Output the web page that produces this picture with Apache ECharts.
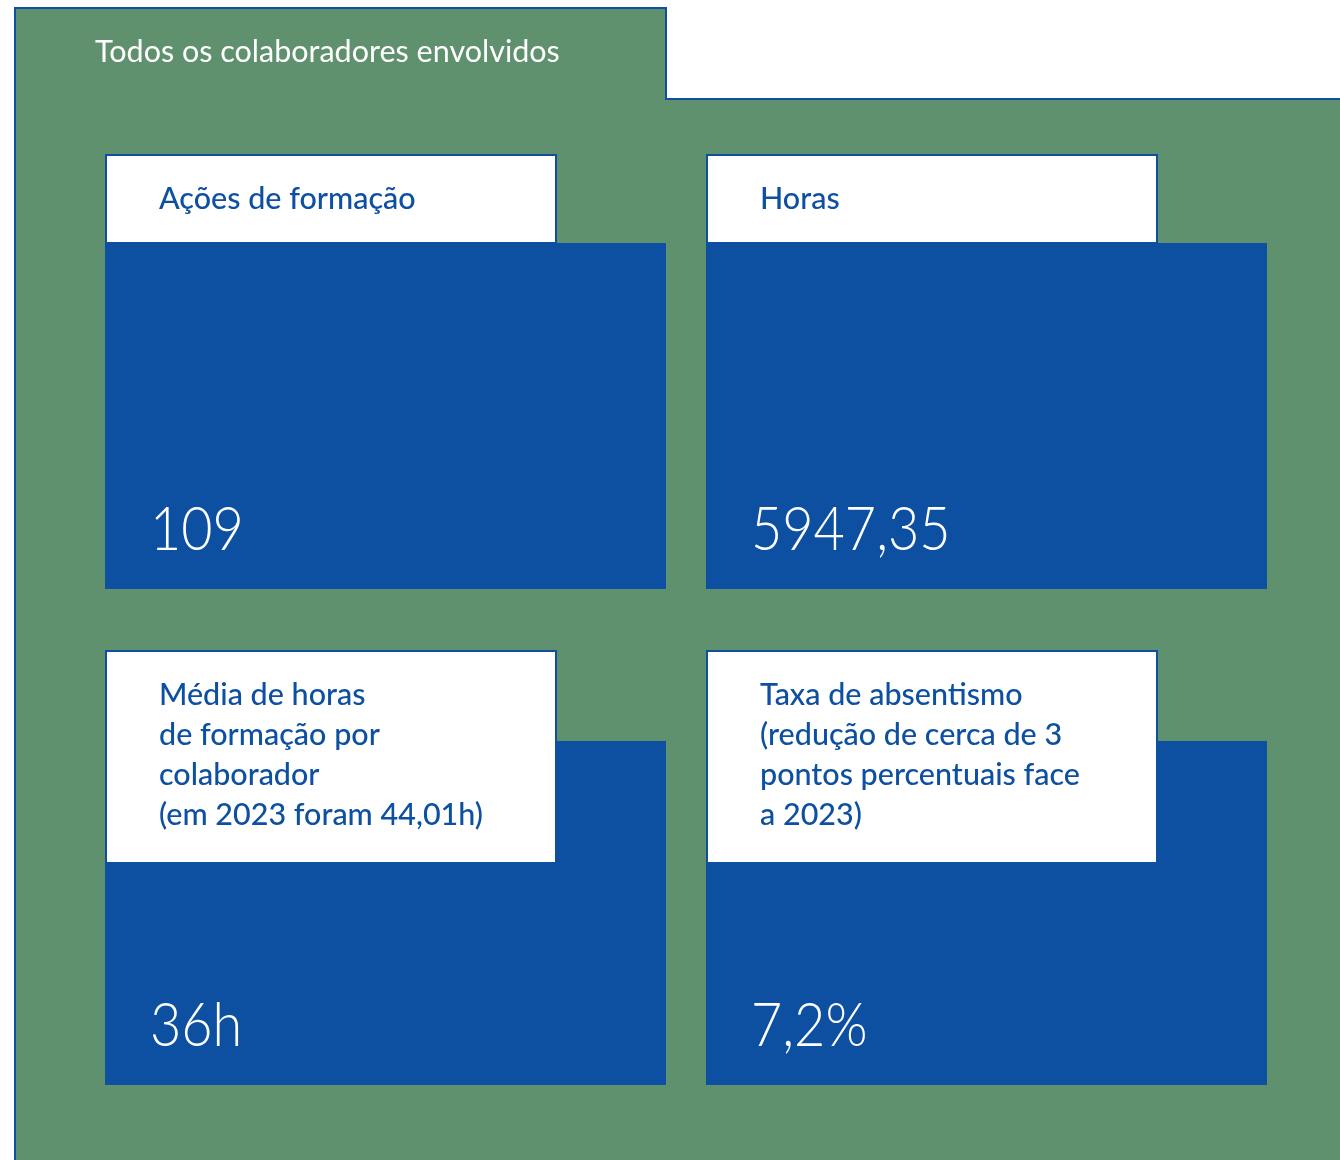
<!DOCTYPE html>
<html lang="pt">
<head>
    <meta charset="UTF-8">
    <title>Todos os colaboradores envolvidos</title>
    <script src="https://cdn.jsdelivr.net/npm/echarts@6/dist/echarts.min.js"></script>
    <style>
        html, body { margin: 0; padding: 0; background: #ffffff; }
        #main { width: 1340px; height: 1160px; }
    </style>
</head>
<body>
    <div id="main"></div>
    <script>
        var myChart = echarts.init(document.getElementById('main'));

        // dados
        var title = 'Todos os colaboradores envolvidos';
        var labels = [
            ['Ações de formação'],
            ['Horas'],
            ['Média de horas', 'de formação por', 'colaborador', '(em 2023 foram 44,01h)'],
            ['Taxa de absentismo', '(redução de cerca de 3', 'pontos percentuais face', 'a 2023)']
        ];
        var values = ['109', '5947,35', '36h', '7,2%'];

        var green = '#60916f';
        var blue = '#0d4fa1';
        var font = 'Lato, "Noto Sans", sans-serif';

        var colX = [105, 706];
        var rowTop = [155, 651];      // topo da caixa branca
        var rowBlueTop = [243, 741];  // topo do bloco azul
        var rowBottom = [589, 1085];  // base do bloco azul

        var elements = [];

        // fundo verde com separador
        elements.push({
            type: 'polygon',
            shape: { points: [[15, 8], [666, 8], [666, 99], [1345, 99], [1345, 1165], [15, 1165]] },
            style: { fill: green, stroke: blue, lineWidth: 2 }
        });
        elements.push({
            type: 'text',
            style: {
                x: 95, y: 52, text: title, fill: '#ffffff',
                font: '400 30.5px ' + font, verticalAlign: 'middle'
            }
        });

        labels.forEach(function (lines, i) {
            var col = i % 2, row = Math.floor(i / 2);
            var x = colX[col];
            var whiteBottom = row === 0 ? rowBlueTop[row] : 863;
            // bloco azul
            elements.push({
                type: 'rect',
                shape: { x: x, y: rowBlueTop[row], width: 561, height: rowBottom[row] - rowBlueTop[row] },
                style: { fill: blue }
            });
            // caixa branca
            elements.push({
                type: 'rect',
                shape: { x: x + 1, y: rowTop[row], width: 450, height: whiteBottom - rowTop[row] },
                style: { fill: '#ffffff', stroke: blue, lineWidth: 2 }
            });
            lines.forEach(function (t, k) {
                elements.push({
                    type: 'text',
                    style: {
                        x: x + 54, y: rowTop[row] + 44 + k * 40, text: t, fill: blue,
                        font: '500 30.5px ' + font, verticalAlign: 'middle'
                    }
                });
            });
            // valor (fonte estreita)
            elements.push({
                type: 'text',
                x: x + 45,
                y: rowBottom[row] - 59,
                scaleX: 0.87,
                style: {
                    x: 0, y: 0, text: values[i], fill: '#ffffff',
                    font: '300 62px ' + font, verticalAlign: 'middle'
                }
            });
        });

        var option = {
            backgroundColor: '#ffffff',
            animation: false,
            graphic: { elements: elements }
        };
        myChart.setOption(option);
    </script>
</body>
</html>
